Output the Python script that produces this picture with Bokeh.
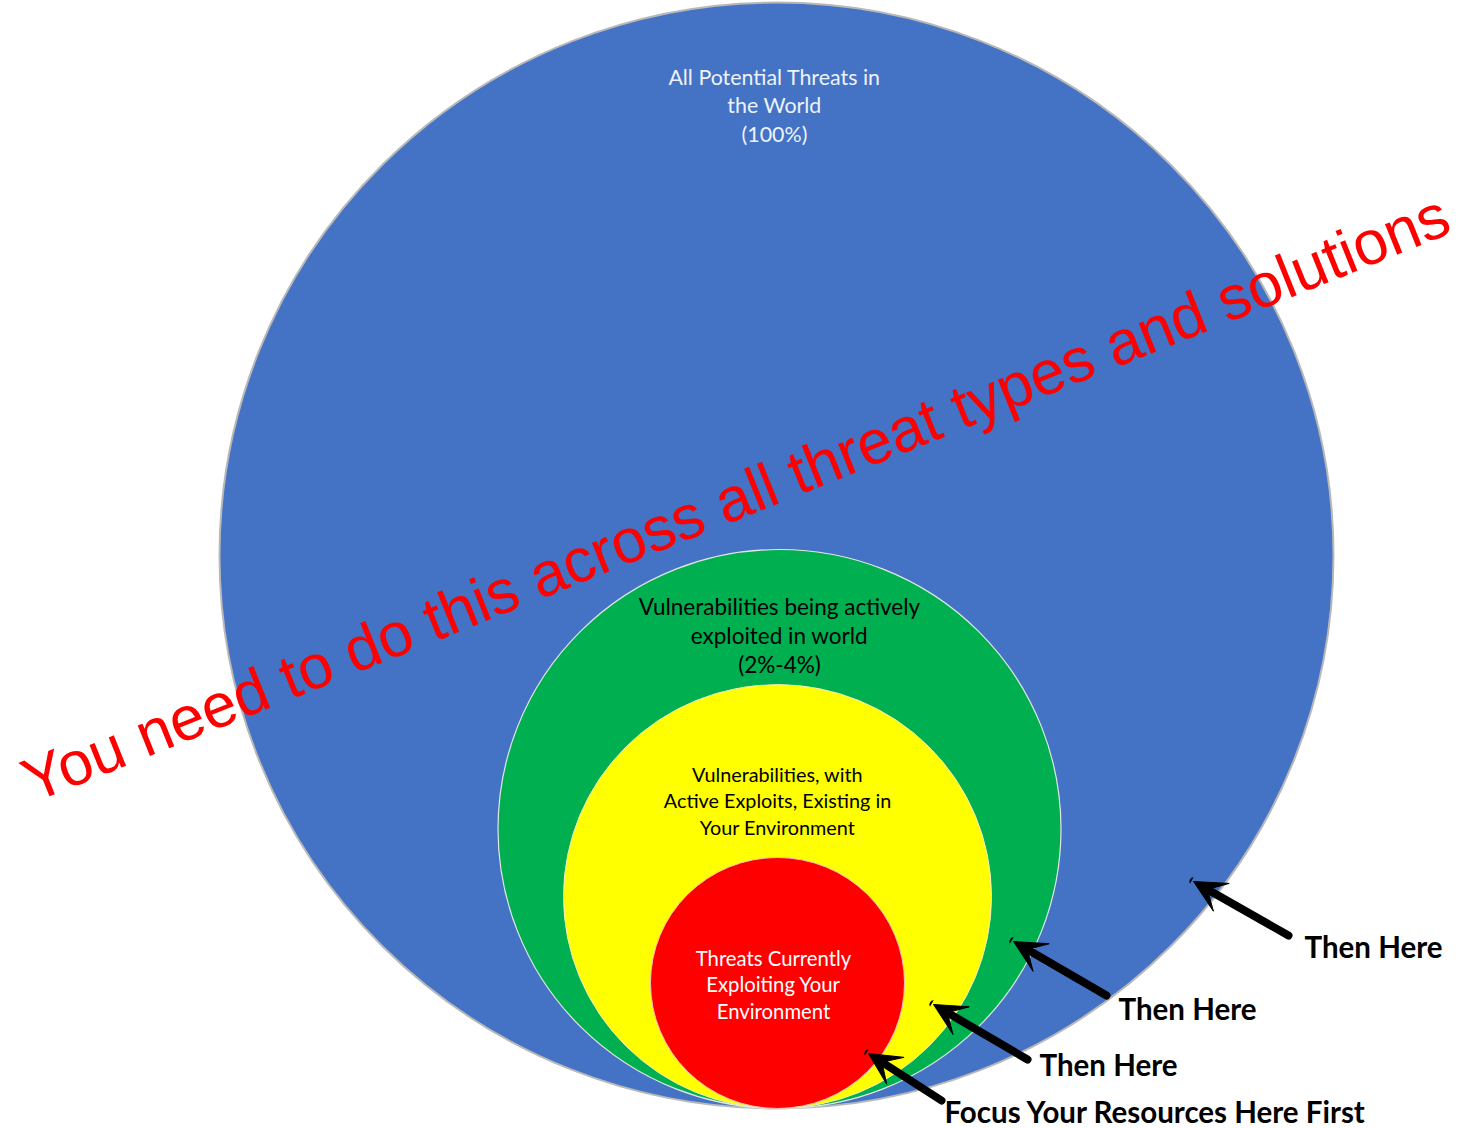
from bokeh.plotting import figure
from bokeh.models import Range1d, Arrow, VeeHead, ColumnDataSource
from bokeh.core.properties import value
from bokeh.embed import file_html
from bokeh.resources import INLINE

# ---- data ----
circle_names = ["All Potential Threats", "Actively exploited", "In your environment", "Currently exploiting"]
circle_labels = [
    "All Potential Threats in\nthe World\n(100%)",
    "Vulnerabilities being actively\nexploited in world\n(2%-4%)",
    "Vulnerabilities, with\nActive Exploits, Existing in\nYour Environment",
    "Threats Currently\nExploiting Your\nEnvironment",
]
circle_widths = [1114, 563, 428, 254]
circle_heights = [1106, 559, 424, 251]
circle_colors = ["#4472C4", "#00B050", "#FFFF00", "#FF0000"]
label_colors = ["#eef2fa", "#000000", "#000000", "#ffffff"]

priority_labels = ["Then Here", "Then Here", "Then Here", "Focus Your Resources Here First"]
banner = "You need to do this across all threat types and solutions"

# ---- layout ----
W, H = 1470, 1128
base_y = 1108
cx = [776, 779, 777, 777]
cy = [base_y - h / 2 for h in circle_heights]
edge_colors = ["#b8b8b8", "#e0e8e0", "#f0f0c0", "#f0c0c0"]
edge_widths = [2, 1.2, 1, 1]
label_y = [105, 635, 800, 984]
label_x = [774, 779, 777, 773]
label_size = ["21.4px", "22.5px", "19.8px", "20.3px"]
label_lh = [1.09, 1.07, 1.09, 1.09]

arrow_tail = [(1288, 935), (1106, 995), (1027, 1059), (941, 1100)]
arrow_tip = [(1193, 881), (1013, 941), (933, 1004), (868, 1053)]
plabel_pos = [(1304, 946), (1118, 1008), (1039, 1064), (944, 1111)]

p = figure(width=W, height=H, output_backend="svg", toolbar_location=None,
           x_range=Range1d(0, W), y_range=Range1d(H, 0), min_border=0)
p.axis.visible = False
p.grid.visible = False
p.outline_line_color = None
p.background_fill_color = "white"

src = ColumnDataSource(dict(x=cx, y=cy, w=circle_widths, h=circle_heights,
                            c=circle_colors, lc=edge_colors, lw=edge_widths, name=circle_names))
p.ellipse(x="x", y="y", width="w", height="h", fill_color="c", source=src,
          line_color="lc", line_width="lw")

for i in range(4):
    p.text(x=[label_x[i]], y=[label_y[i]], text=[circle_labels[i]],
           text_font=value("Lato"), text_font_size=label_size[i],
           text_color=label_colors[i], text_align="center", text_baseline="middle",
           text_line_height=label_lh[i])

for (tx, ty), (hx, hy) in zip(arrow_tail, arrow_tip):
    p.add_layout(Arrow(x_start=tx, y_start=ty, x_end=hx, y_end=hy,
                       line_color="black", line_width=8, line_cap="round",
                       end=VeeHead(size=32, fill_color="black", line_color="black", line_width=1)))

for (x, y), t in zip(plabel_pos, priority_labels):
    p.text(x=[x], y=[y], text=[t], text_font=value("Lato"), text_font_style="bold",
           text_font_size="29.5px", text_color="black", text_align="left", text_baseline="middle")

p.text(x=[735], y=[497], text=[banner], text_font=value("Liberation Sans"),
       text_font_size="62px", text_color="#FF0000", text_align="center",
       text_baseline="middle", angle=21.9, angle_units="deg")

open("out.html", "w").write(file_html(p, INLINE))
